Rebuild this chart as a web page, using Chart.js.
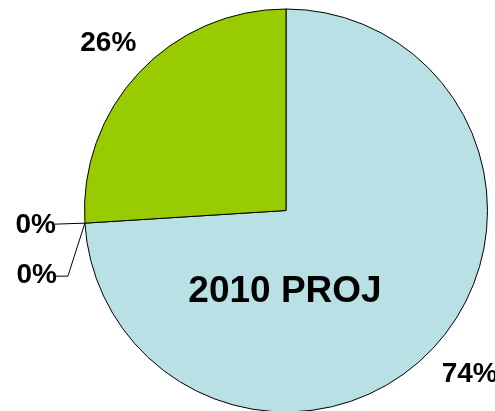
<!DOCTYPE html>
<html lang="en">
<head>
  <meta charset="UTF-8" />
  <title>2010 PROJ</title>
  <script src="https://cdn.jsdelivr.net/npm/chart.js"></script>
  <style>
    html, body { margin: 0; padding: 0; background: #fff; overflow: hidden; }
    #wrap { position: relative; width: 495px; height: 430px; }
  </style>
</head>
<body>
  <div id="wrap"><canvas id="pieChart"></canvas></div>

  <script>
    // values
    const categories = ['A', 'B', 'C', 'D'];
    const shares = [74, 0, 0, 26];
    const sliceColors = ['#b9e0e4', '#ffffff', '#ffffff', '#99cc00'];
    const centerTitle = '2010 PROJ';

    const labelFont = 'bold 28px "Liberation Sans", Arial, sans-serif';

    // percent labels + leader lines for the empty slices
    const pieLabels = {
      id: 'pieLabels',
      afterDraw(chart) {
        const ctx = chart.ctx;
        const arcs = chart.getDatasetMeta(0).data;
        ctx.save();
        ctx.fillStyle = '#000';
        ctx.strokeStyle = '#000';
        ctx.lineWidth = 1;
        ctx.font = labelFont;
        ctx.textBaseline = 'middle';

        arcs.forEach((arc, i) => {
          const txt = shares[i] + '%';
          const mid = (arc.startAngle + arc.endAngle) / 2;
          const r = arc.outerRadius;
          if (shares[i] > 0) {
            // outside-end labels, small nudge for the big slice
            const nx = i === 0 ? 6 : 0;
            const ny = i === 0 ? -3 : 0;
            ctx.textAlign = 'center';
            ctx.fillText(txt, arc.x + Math.cos(mid) * r * 1.21 + nx, arc.y + Math.sin(mid) * r * 1.21 + ny);
          } else {
            const ax = arc.x + Math.cos(mid) * r;
            const ay = arc.y + Math.sin(mid) * r;
            ctx.textAlign = 'right';
            if (i === 1) {
              ctx.beginPath();
              ctx.moveTo(ax, ay);
              ctx.lineTo(ax - 30, ay + 1);
              ctx.stroke();
              ctx.fillText(txt, ax - 29, ay + 2);
            } else {
              ctx.beginPath();
              ctx.moveTo(ax, ay);
              ctx.lineTo(ax - 17, ay + 53);
              ctx.lineTo(ax - 29, ay + 53);
              ctx.stroke();
              ctx.fillText(txt, ax - 28, ay + 52);
            }
          }
        });

        ctx.textAlign = 'center';
        ctx.font = 'bold 37px "Liberation Sans", Arial, sans-serif';
        ctx.fillText(centerTitle, arcs[0].x - 1, arcs[0].y + 81);
        ctx.restore();
      }
    };

    new Chart(document.getElementById('pieChart'), {
      type: 'pie',
      data: {
        labels: categories,
        datasets: [{
          data: shares,
          backgroundColor: sliceColors,
          borderColor: '#000',
          borderWidth: 1
        }]
      },
      options: {
        responsive: true,
        maintainAspectRatio: false,
        animation: false,
        layout: { padding: { left: 84, right: 7, top: 8, bottom: 17 } },
        plugins: {
          legend: { display: false },
          tooltip: { enabled: false }
        }
      },
      plugins: [pieLabels]
    });
  </script>
</body>
</html>
